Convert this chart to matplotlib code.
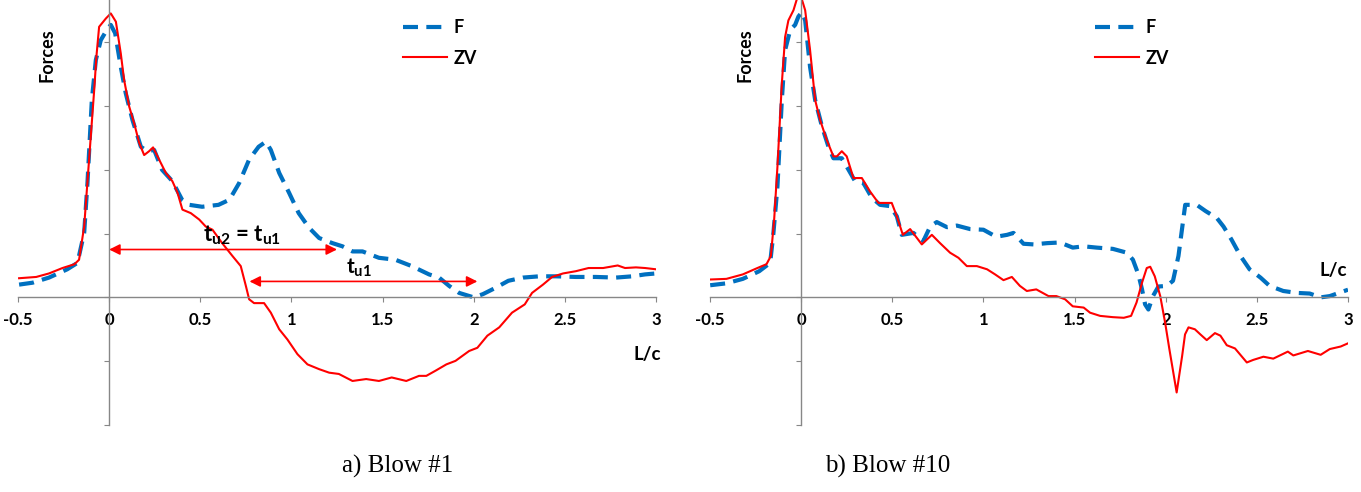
import matplotlib
matplotlib.use("Agg")
import matplotlib.pyplot as plt

plt.rcParams['font.family'] = ['Lato', 'DejaVu Sans']
plt.rcParams['mathtext.fontset'] = 'custom'
plt.rcParams['mathtext.rm'] = 'Lato'
plt.rcParams['mathtext.bf'] = 'Lato:bold'

# Blow #1 : force F and velocity*impedance ZV versus time in L/c
xf1 = [-0.494, -0.42, -0.33, -0.23, -0.174, -0.137, -0.119, -0.095, -0.073, -0.046, -0.009, 0.009,
       0.033, 0.064, 0.091, 0.128, 0.174, 0.21, 0.247, 0.29, 0.347, 0.40, 0.44, 0.51, 0.60, 0.66,
       0.713, 0.768, 0.82, 0.86, 0.887, 0.933, 0.987, 1.04, 1.097, 1.152, 1.225, 1.28, 1.335, 1.39,
       1.48, 1.57, 1.66, 1.755, 1.81, 1.865, 1.92, 2.0, 2.05, 2.12, 2.19, 2.27, 2.36, 2.45, 2.56,
       2.67, 2.78, 2.87, 2.94, 3.0]
yf1 = [0.20, 0.23, 0.31, 0.44, 0.54, 1.01, 1.79, 3.09, 3.72, 4.03, 4.21, 4.27, 4.14, 3.61, 3.20,
       2.78, 2.36, 2.29, 2.31, 2.0, 1.82, 1.53, 1.45, 1.42, 1.45, 1.53, 1.79, 2.16, 2.36, 2.44, 2.31,
       1.95, 1.64, 1.32, 1.09, 0.93, 0.85, 0.80, 0.72, 0.72, 0.62, 0.59, 0.49, 0.36, 0.31, 0.18,
       0.07, 0.0, 0.05, 0.15, 0.26, 0.31, 0.33, 0.33, 0.32, 0.32, 0.31, 0.33, 0.36, 0.375]
xz1 = [-0.494, -0.40, -0.33, -0.256, -0.19, -0.165, -0.137, -0.11, -0.082, -0.07, -0.055, -0.018,
       0.009, 0.037, 0.064, 0.082, 0.11, 0.137, 0.165, 0.192, 0.219, 0.241, 0.274, 0.311, 0.347,
       0.375, 0.402, 0.448, 0.494, 0.53, 0.567, 0.62, 0.676, 0.722, 0.75, 0.768, 0.795, 0.85, 0.887,
       0.933, 0.978, 1.033, 1.088, 1.152, 1.207, 1.26, 1.335, 1.41, 1.48, 1.55, 1.63, 1.70, 1.74,
       1.79, 1.85, 1.90, 1.975, 2.02, 2.075, 2.14, 2.21, 2.28, 2.32, 2.38, 2.43, 2.49, 2.56, 2.63,
       2.71, 2.79, 2.83, 2.89, 2.94, 3.0]
yz1 = [0.30, 0.32, 0.375, 0.46, 0.52, 0.59, 1.11, 2.16, 3.25, 3.77, 4.24, 4.37, 4.45, 4.32, 3.82,
       3.41, 2.99, 2.73, 2.42, 2.23, 2.29, 2.35, 2.16, 1.95, 1.82, 1.64, 1.375, 1.32, 1.22, 1.11,
       1.06, 0.85, 0.65, 0.49, 0.18, -0.03, -0.09, -0.09, -0.24, -0.5, -0.66, -0.89, -1.05, -1.125,
       -1.18, -1.2, -1.31, -1.28, -1.31, -1.255, -1.31, -1.23, -1.23, -1.15, -1.05, -0.995, -0.84,
       -0.79, -0.60, -0.47, -0.24, -0.11, 0.07, 0.20, 0.32, 0.375, 0.41, 0.46, 0.46, 0.50, 0.46,
       0.47, 0.46, 0.44]

# Blow #10
xf10 = [-0.499, -0.41, -0.32, -0.23, -0.17, -0.152, -0.13, -0.106, -0.088, -0.06, -0.033, -0.015,
        0.004, 0.022, 0.049, 0.077, 0.114, 0.15, 0.177, 0.223, 0.26, 0.296, 0.342, 0.388, 0.433,
        0.488, 0.525, 0.552, 0.616, 0.67, 0.708, 0.744, 0.80, 0.854, 0.927, 1.0, 1.07, 1.13, 1.165,
        1.22, 1.275, 1.35, 1.42, 1.49, 1.55, 1.62, 1.71, 1.787, 1.82, 1.85, 1.87, 1.887, 1.905, 1.93,
        1.96, 2.006, 2.04, 2.07, 2.094, 2.107, 2.17, 2.22, 2.28, 2.317, 2.36, 2.41, 2.46, 2.52, 2.57,
        2.645, 2.72, 2.79, 2.85, 2.90, 2.94, 3.0]
yf10 = [0.19, 0.22, 0.29, 0.41, 0.54, 1.01, 1.74, 3.09, 3.875, 4.19, 4.27, 4.40, 4.47, 4.34, 3.61,
        3.09, 2.68, 2.36, 2.18, 2.18, 2.0, 1.82, 1.79, 1.56, 1.45, 1.43, 1.27, 0.98, 1.01, 0.88,
        1.11, 1.18, 1.10, 1.125, 1.07, 1.06, 0.95, 0.98, 1.01, 0.84, 0.83, 0.85, 0.86, 0.78, 0.80,
        0.78, 0.76, 0.70, 0.59, 0.36, 0.125, -0.11, -0.19, 0.02, 0.17, 0.18, 0.26, 0.65, 1.17, 1.45,
        1.45, 1.35, 1.245, 1.11, 0.91, 0.65, 0.44, 0.31, 0.18, 0.10, 0.07, 0.06, 0.0, 0.02, 0.06, 0.12]
xz10 = [-0.499, -0.41, -0.32, -0.24, -0.19, -0.166, -0.148, -0.13, -0.106, -0.088, -0.07, -0.042,
        -0.01, 0.022, 0.049, 0.077, 0.104, 0.14, 0.177, 0.196, 0.223, 0.25, 0.287, 0.333, 0.378,
        0.424, 0.47, 0.497, 0.525, 0.558, 0.598, 0.662, 0.717, 0.762, 0.817, 0.863, 0.909, 0.964,
        1.02, 1.064, 1.11, 1.156, 1.20, 1.238, 1.29, 1.357, 1.40, 1.448, 1.49, 1.55, 1.585, 1.64,
        1.71, 1.77, 1.81, 1.84, 1.87, 1.896, 1.915, 1.94, 1.97, 1.997, 2.02, 2.06, 2.09, 2.106,
        2.125, 2.16, 2.19, 2.225, 2.27, 2.30, 2.335, 2.38, 2.445, 2.48, 2.536, 2.59, 2.67, 2.70,
        2.78, 2.85, 2.90, 2.96, 3.0]
yz10 = [0.28, 0.29, 0.36, 0.46, 0.52, 0.65, 1.22, 2.05, 3.35, 4.08, 4.34, 4.5, 4.8, 4.5, 3.875,
        3.09, 2.78, 2.47, 2.21, 2.21, 2.29, 2.21, 1.87, 1.87, 1.66, 1.48, 1.48, 1.48, 1.27, 0.98,
        1.07, 0.83, 0.98, 0.85, 0.70, 0.62, 0.49, 0.49, 0.44, 0.36, 0.27, 0.32, 0.18, 0.10, 0.125,
        0.02, 0.02, -0.03, -0.14, -0.16, -0.24, -0.29, -0.31, -0.32, -0.29, -0.08, 0.23, 0.46, 0.48,
        0.33, 0.02, -0.40, -0.81, -1.49, -0.92, -0.58, -0.47, -0.50, -0.58, -0.67, -0.56, -0.60,
        -0.75, -0.80, -1.02, -0.98, -0.93, -0.96, -0.85, -0.91, -0.84, -0.90, -0.81, -0.77, -0.72]

x_ticks = [-0.5, 0, 0.5, 1, 1.5, 2, 2.5, 3]
x_ticklabels = ['-0.5', '0', '0.5', '1', '1.5', '2', '2.5', '3']
y_ticks = [-2, -1, 0, 1, 2, 3, 4]
captions = ['a) Blow #1', 'b) Blow #10']

BLUE = '#0070C0'
RED = '#FF0000'
GRAY = '#878787'


def draw_panel(ax, xf, yf, xz, yz, forces_x, lc_pos):
    ax.plot(xf, yf, color=BLUE, lw=3.0, dashes=(3.6, 2.0), label='F', solid_capstyle='butt')
    ax.plot(xz, yz, color=RED, lw=1.5, label='ZV')
    ax.set_xlim(-0.5, 3.0)
    ax.set_ylim(-2.0, 4.66)
    for s in ['top', 'right']:
        ax.spines[s].set_visible(False)
    ax.spines['left'].set_position(('data', 0))
    ax.spines['bottom'].set_position(('data', 0))
    for s in ['left', 'bottom']:
        ax.spines[s].set_color(GRAY)
        ax.spines[s].set_linewidth(1.0)
    ax.set_xticks(x_ticks)
    ax.set_xticklabels(x_ticklabels, fontsize=12, fontweight='bold')
    ax.set_yticks(y_ticks)
    ax.set_yticklabels([])
    ax.tick_params(axis='x', direction='out', length=3.5, color=GRAY, pad=7)
    ax.tick_params(axis='y', direction='out', length=3.5, color=GRAY)
    ax.patch.set_alpha(0)
    ax.text(forces_x, 3.8, 'Forces', rotation=90, fontsize=13, fontweight='bold',
            ha='center', va='center')
    ax.text(lc_pos[0], lc_pos[1], 'L/c', fontsize=13.5, fontweight='bold',
            ha='center', va='center')
    ax.legend(loc='upper left', bbox_to_anchor=(0.603, 0.955), frameon=False,
              handlelength=2.45, handletextpad=0.35, labelspacing=0.75,
              borderpad=0, borderaxespad=0,
              prop={'weight': 'bold', 'size': 13})


fig = plt.figure(figsize=(13.61, 4.92), dpi=100)
ax1 = fig.add_axes([18 / 1361, 1 - 425 / 492, 638 / 1361, 425 / 492])
ax2 = fig.add_axes([710 / 1361, 1 - 425 / 492, 638 / 1361, 425 / 492])

draw_panel(ax1, xf1, yf1, xz1, yz1, -0.34, (2.95, -0.89))
draw_panel(ax2, xf10, yf10, xz10, yz10, -0.31, (2.92, 0.42))

# travel-time arrows on blow #1
arrow_kw = dict(arrowstyle='<|-|>', color=RED, lw=1.2, mutation_scale=16,
                shrinkA=0, shrinkB=0)
ax1.annotate('', xy=(1.25, 0.75), xytext=(0.0, 0.75), arrowprops=arrow_kw)
ax1.annotate('', xy=(2.02, 0.25), xytext=(0.77, 0.25), arrowprops=arrow_kw)
ax1.text(0.73, 0.97, r'$\mathbf{t_{u2}}$ = $\mathbf{t_{u1}}$', fontsize=16, fontweight='bold',
         ha='center', va='center')
ax1.text(1.37, 0.47, r'$\mathbf{t_{u1}}$', fontsize=15, ha='center', va='center')

fig.text(398 / 1361, 1 - 466 / 492, captions[0], family='Liberation Serif', fontsize=18,
         ha='center', va='center')
fig.text(888 / 1361, 1 - 466 / 492, captions[1], family='Liberation Serif', fontsize=18,
         ha='center', va='center')

fig.savefig('out.png', dpi=100)
